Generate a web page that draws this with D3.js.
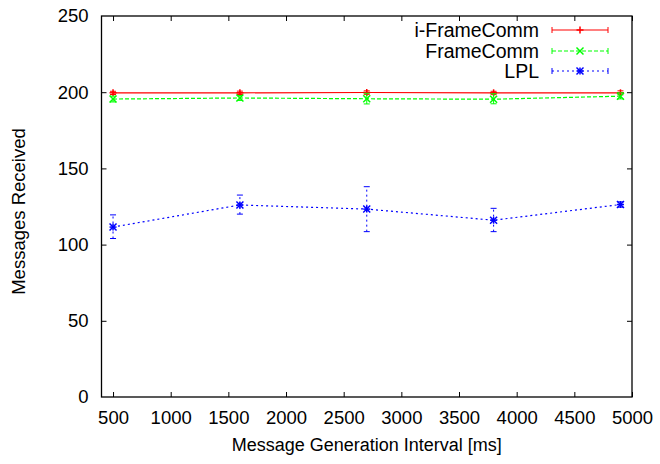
<!DOCTYPE html>
<html><head><meta charset="utf-8">
<script src="https://cdn.jsdelivr.net/npm/d3@7"></script>
<style>body{margin:0;background:#fff}svg{display:block}text{font-family:"Liberation Sans",Arial,sans-serif;fill:#000}</style>
</head><body><svg id="c" width="660" height="464"></svg>
<script>
const intervals = [500, 1600, 2700, 3800, 4900];
const iFrameMean = [199.6, 199.6, 199.8, 199.6, 199.6];
const iFrameLow  = [198.5, 198.5, 198.6, 198.4, 198.3];
const iFrameHigh = [200.6, 200.7, 200.9, 200.6, 200.9];
const frameMean = [195.5, 196.2, 195.7, 195.4, 197.4];
const frameLow  = [193.6, 194.6, 192.3, 192.4, 195.6];
const frameHigh = [197.4, 197.8, 199.3, 199.0, 199.6];
const lplMean = [111.5, 126.0, 123.3, 116.0, 126.3];
const lplLow  = [104.0, 120.0, 108.5, 108.5, 124.6];
const lplHigh = [119.5, 132.5, 138.0, 123.8, 128.0];
const xTicks = [500,1000,1500,2000,2500,3000,3500,4000,4500,5000];
const yTicks = [0,50,100,150,200,250];
const seriesNames = ["i-FrameComm","FrameComm","LPL"];

const L=101.5, R=632, T=16, B=397;
const FS="18.5px";
const svg=d3.select("#c");
const x=d3.scaleLinear().domain([400,5000]).range([L,R]);
const y=d3.scaleLinear().domain([0,250]).range([B,T]);

const series=[
 {name:seriesNames[0],mean:iFrameMean,low:iFrameLow,high:iFrameHigh,color:"#ff0000",dash:null,marker:"plus"},
 {name:seriesNames[1],mean:frameMean,low:frameLow,high:frameHigh,color:"#00ff00",dash:"4,2",marker:"cross"},
 {name:seriesNames[2],mean:lplMean,low:lplLow,high:lplHigh,color:"#0000ff",dash:"2,3",marker:"star"}
];

const tl=5;
const bx=svg.append("g").attr("transform",`translate(0,${B})`).call(d3.axisBottom(x).tickValues(xTicks).tickSizeInner(-tl).tickSizeOuter(0).tickPadding(14).tickFormat(d3.format("d")));
const tx=svg.append("g").attr("transform",`translate(0,${T})`).call(d3.axisTop(x).tickValues(xTicks).tickSizeInner(-tl).tickSizeOuter(0).tickFormat(""));
const ly=svg.append("g").attr("transform",`translate(${L},0)`).call(d3.axisLeft(y).tickValues(yTicks).tickSizeInner(-tl).tickSizeOuter(0).tickPadding(13));
const ry=svg.append("g").attr("transform",`translate(${R},0)`).call(d3.axisRight(y).tickValues(yTicks).tickSizeInner(-tl).tickSizeOuter(0).tickFormat(""));
[bx,tx,ly,ry].forEach(a=>{a.select(".domain").remove();a.selectAll("line").attr("stroke","#000");a.selectAll("text").style("font-size",FS).attr("font-family",null);});
ly.selectAll(".tick").filter(d=>d===0||d===250).select("line").remove();
ry.selectAll(".tick").filter(d=>d===0||d===250).select("line").remove();
svg.append("rect").attr("x",L).attr("y",T).attr("width",R-L).attr("height",B-T).attr("fill","none").attr("stroke","#000").attr("stroke-width",1.3);

function marker(sel,type,cx,cy,color){
 const s=3.5;
 const p=[];
 if(type==="plus"||type==="star"){p.push([cx-s,cy,cx+s,cy],[cx,cy-s,cx,cy+s]);}
 if(type==="cross"||type==="star"){p.push([cx-s,cy-s,cx+s,cy+s],[cx-s,cy+s,cx+s,cy-s]);}
 p.forEach(q=>sel.append("line").attr("x1",q[0]).attr("y1",q[1]).attr("x2",q[2]).attr("y2",q[3]).attr("stroke",color).attr("stroke-width",1.5));
}

series.forEach(s=>{
 const gg=svg.append("g");
 const pts=intervals.map((v,i)=>({x:v,m:s.mean[i],lo:s.low[i],hi:s.high[i]}));
 gg.append("path").datum(pts).attr("fill","none").attr("stroke",s.color).attr("stroke-width",1.2)
   .attr("stroke-dasharray",s.dash).attr("d",d3.line().x(d=>x(d.x)).y(d=>y(d.m)));
 pts.forEach(d=>{
  const cx=x(d.x);
  gg.append("line").attr("x1",cx).attr("x2",cx).attr("y1",y(d.lo)).attr("y2",y(d.hi)).attr("stroke",s.color).attr("stroke-dasharray",s.dash);
  [d.lo,d.hi].forEach(v=>gg.append("line").attr("x1",cx-3).attr("x2",cx+3).attr("y1",y(v)).attr("y2",y(v)).attr("stroke",s.color));
  marker(gg,s.marker,cx,y(d.m),s.color);
 });
});

const lx1=552, lx2=608, lyy=[30,51,71];
series.forEach((s,i)=>{
 const yy=lyy[i];
 svg.append("text").attr("x",539).attr("y",yy).attr("dy","0.35em").attr("text-anchor","end").style("font-size","19.5px").text(s.name);
 svg.append("line").attr("x1",lx1).attr("x2",lx2).attr("y1",yy).attr("y2",yy).attr("stroke",s.color).attr("stroke-width",1.2).attr("stroke-dasharray",s.dash);
 [lx1,lx2].forEach(xx=>svg.append("line").attr("x1",xx).attr("x2",xx).attr("y1",yy-3).attr("y2",yy+3).attr("stroke",s.color));
 marker(svg,s.marker,(lx1+lx2)/2,yy,s.color);
});

svg.append("text").attr("x",(L+R)/2).attr("y",451).attr("text-anchor","middle").style("font-size","18px").text("Message Generation Interval [ms]");
svg.append("text").attr("transform",`translate(25,${(T+B)/2+5}) rotate(-90)`).attr("text-anchor","middle").style("font-size",FS).text("Messages Received");
</script></body></html>
